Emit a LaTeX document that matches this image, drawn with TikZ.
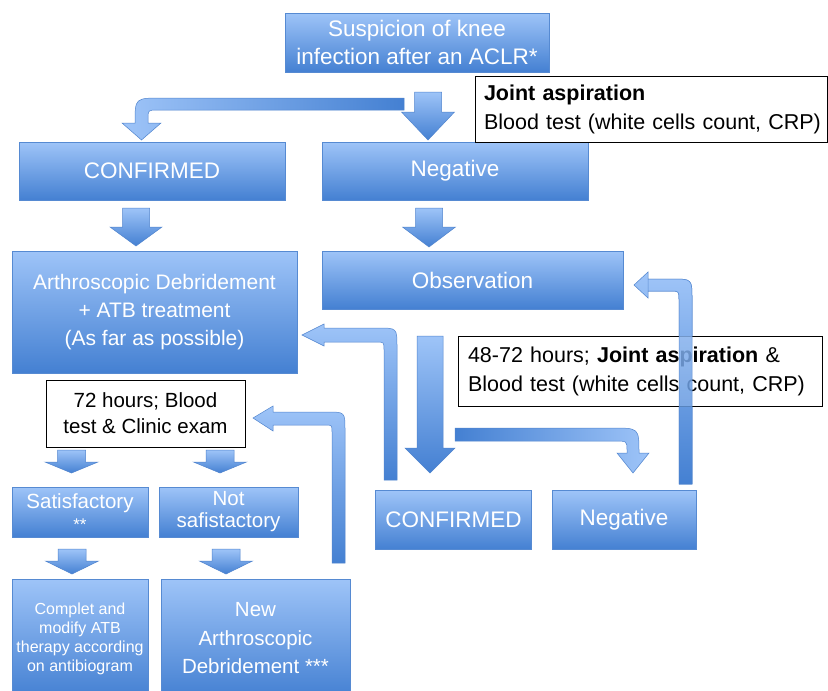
\documentclass[tikz,border=0pt]{standalone}
\usepackage{fontspec}
\setmainfont{Liberation Sans}
\definecolor{bxTop}{RGB}{158,196,248}
\definecolor{bxBot}{RGB}{68,128,210}
\definecolor{bxEdge}{RGB}{86,138,210}
\definecolor{arEdge}{RGB}{80,132,206}
\tikzset{
  bbox/.style={draw=bxEdge, line width=0.7pt, top color=bxTop, bottom color=bxBot,
    text=white, align=center, inner sep=0pt, font=\fontsize{22.5}{28}\selectfont},
  wbox/.style={draw=black, line width=0.7pt, fill=white, text=black, inner sep=0pt},
  arv/.style={draw=arEdge, line width=0.5pt, top color=bxTop, bottom color=bxBot},
  arl/.style={draw=arEdge, line width=0.5pt, left color=bxTop, right color=bxBot},
  arr/.style={draw=arEdge, line width=0.5pt, left color=bxBot, right color=bxTop},
}
% straight block arrow pointing down: cx, top, head start, tip, shaft half width, head half width
\newcommand\blkdown[6]{%
  \path[arv] (#1-#5,#2) -- (#1+#5,#2) -- (#1+#5,#3) -- (#1+#6,#3) -- (#1,#4)
    -- (#1-#6,#3) -- (#1-#5,#3) -- cycle;}
\begin{document}
\begin{tikzpicture}[x=1pt,y=-1pt]
\useasboundingbox (0,0) rectangle (828,691);
\fill[white] (0,0) rectangle (828,691);

% ---- boxes ----
\node[bbox, minimum width=264pt, minimum height=59pt] (top) at (417,42.5)
  {Suspicion of knee\\infection after an ACLR*};
\node[bbox, minimum width=266pt, minimum height=58pt] (confL) at (152,171) {CONFIRMED};
\node[bbox, minimum width=266pt, minimum height=58pt] (negT) at (455,171) {Negative};
\node[wbox, minimum height=66pt, text width=342pt, inner xsep=5pt, align=left,
  font=\fontsize{21.5}{29}\selectfont] (joint) at (651,109)
  {\hspace*{4pt}\textbf{Joint aspiration}\\\hspace*{4pt}Blood test (white cells count, CRP)};
\node[bbox, minimum width=285pt, minimum height=122pt, font=\fontsize{21}{28}\selectfont] (arth) at (154.5,312)
  {Arthroscopic Debridement\\+ ATB treatment\\(As far as possible)};
\node[bbox, minimum width=301pt, minimum height=58pt] (obs) at (472.5,280) {Observation};
\node[bbox, minimum width=156pt, minimum height=59pt] (confB) at (453.5,520) {CONFIRMED};
\node[bbox, minimum width=144pt, minimum height=59pt] (negB) at (624,520) {Negative};
\node[bbox, minimum width=136pt, minimum height=50pt, font=\fontsize{20.5}{22}\selectfont] (sat) at (80,512)
  {Satisfactory\\{\fontsize{17}{17}\selectfont **}};
\node[bbox, minimum width=139pt, minimum height=50pt, font=\fontsize{20.5}{22}\selectfont] (nsat) at (228.5,512)
  {Not\\safistactory};
\node[bbox, minimum width=136pt, minimum height=119pt, font=\fontsize{16}{19}\selectfont] (comp) at (80,638.5)
  {Complet and\\modify ATB\\therapy according\\on antibiogram};
\node[bbox, minimum width=189pt, minimum height=119pt, font=\fontsize{20.5}{28.5}\selectfont] (newa) at (255.5,638.5)
  {New\\Arthroscopic\\Debridement ***};

% ---- arrows ----
\blkdown{428}{92}{112}{140}{13.5}{26.5}
\path[arl] (404,98) -- (162,98) .. controls (135,98) .. (135,123) -- (122,123) -- (141.5,140)
  -- (161,123) -- (148,123) -- (148,119) .. controls (148,110) .. (158,110) -- (404,110) -- cycle;
\blkdown{136}{208}{227}{246}{13.5}{26}
\blkdown{429}{208}{227}{247}{13.5}{26.5}
\blkdown{430}{336}{448}{473}{13}{25}
\path[arr] (455,428) -- (612,428) .. controls (639,428) .. (639,453) -- (649,453) -- (633,473)
  -- (617,453) -- (627,453) -- (627,450) .. controls (627,441) .. (614,441) -- (455,441) -- cycle;
\path[arv] (679,484) -- (679,300) .. controls (679,291) .. (670,291) -- (648,291) -- (648,298)
  -- (634,285) -- (648,272) -- (648,279) -- (672,279) .. controls (692,279) .. (692,299)
  -- (692,484) -- cycle;
\path[arv] (384,480) -- (384,350) .. controls (384,342) .. (376,342) -- (324,342) -- (324,346)
  -- (302,335) -- (324,324) -- (324,328) -- (378,328) .. controls (397,328) .. (397,347)
  -- (397,480) -- cycle;

\node[wbox, minimum width=199pt, minimum height=67pt, align=center,
  font=\fontsize{20.5}{26}\selectfont] (hrs72) at (145.5,413.5)
  {72 hours; Blood\\test \& Clinic exam};
\node[wbox, minimum height=70pt, text width=344pt, inner xsep=10pt, align=left,
  font=\fontsize{21.5}{29}\selectfont] (hrs48) at (640,371)
  {48-72 hours; \textbf{Joint aspiration} \&\\Blood test (white cells count, CRP)};
% upward arrow drawn over the 48-72 box
\path[arv] (332,563) -- (332,432) .. controls (332,425) .. (325,425) -- (273,425) -- (273,431)
  -- (253,418) -- (273,406) -- (273,412) -- (327,412) .. controls (345,412) .. (345,430)
  -- (345,563) -- cycle;
\path[arv, opacity=0.85] (679,484) -- (679,300) .. controls (679,291) .. (670,291) -- (648,291)
  -- (648,279) -- (672,279) .. controls (692,279) .. (692,299) -- (692,484) -- cycle;

\blkdown{71.5}{450}{462}{473}{14}{26.5}
\blkdown{220}{450}{462}{473}{14}{26.5}
\blkdown{72}{549}{561}{574}{14}{26.5}
\blkdown{226}{549}{561}{574}{14}{26.5}
\end{tikzpicture}
\end{document}
